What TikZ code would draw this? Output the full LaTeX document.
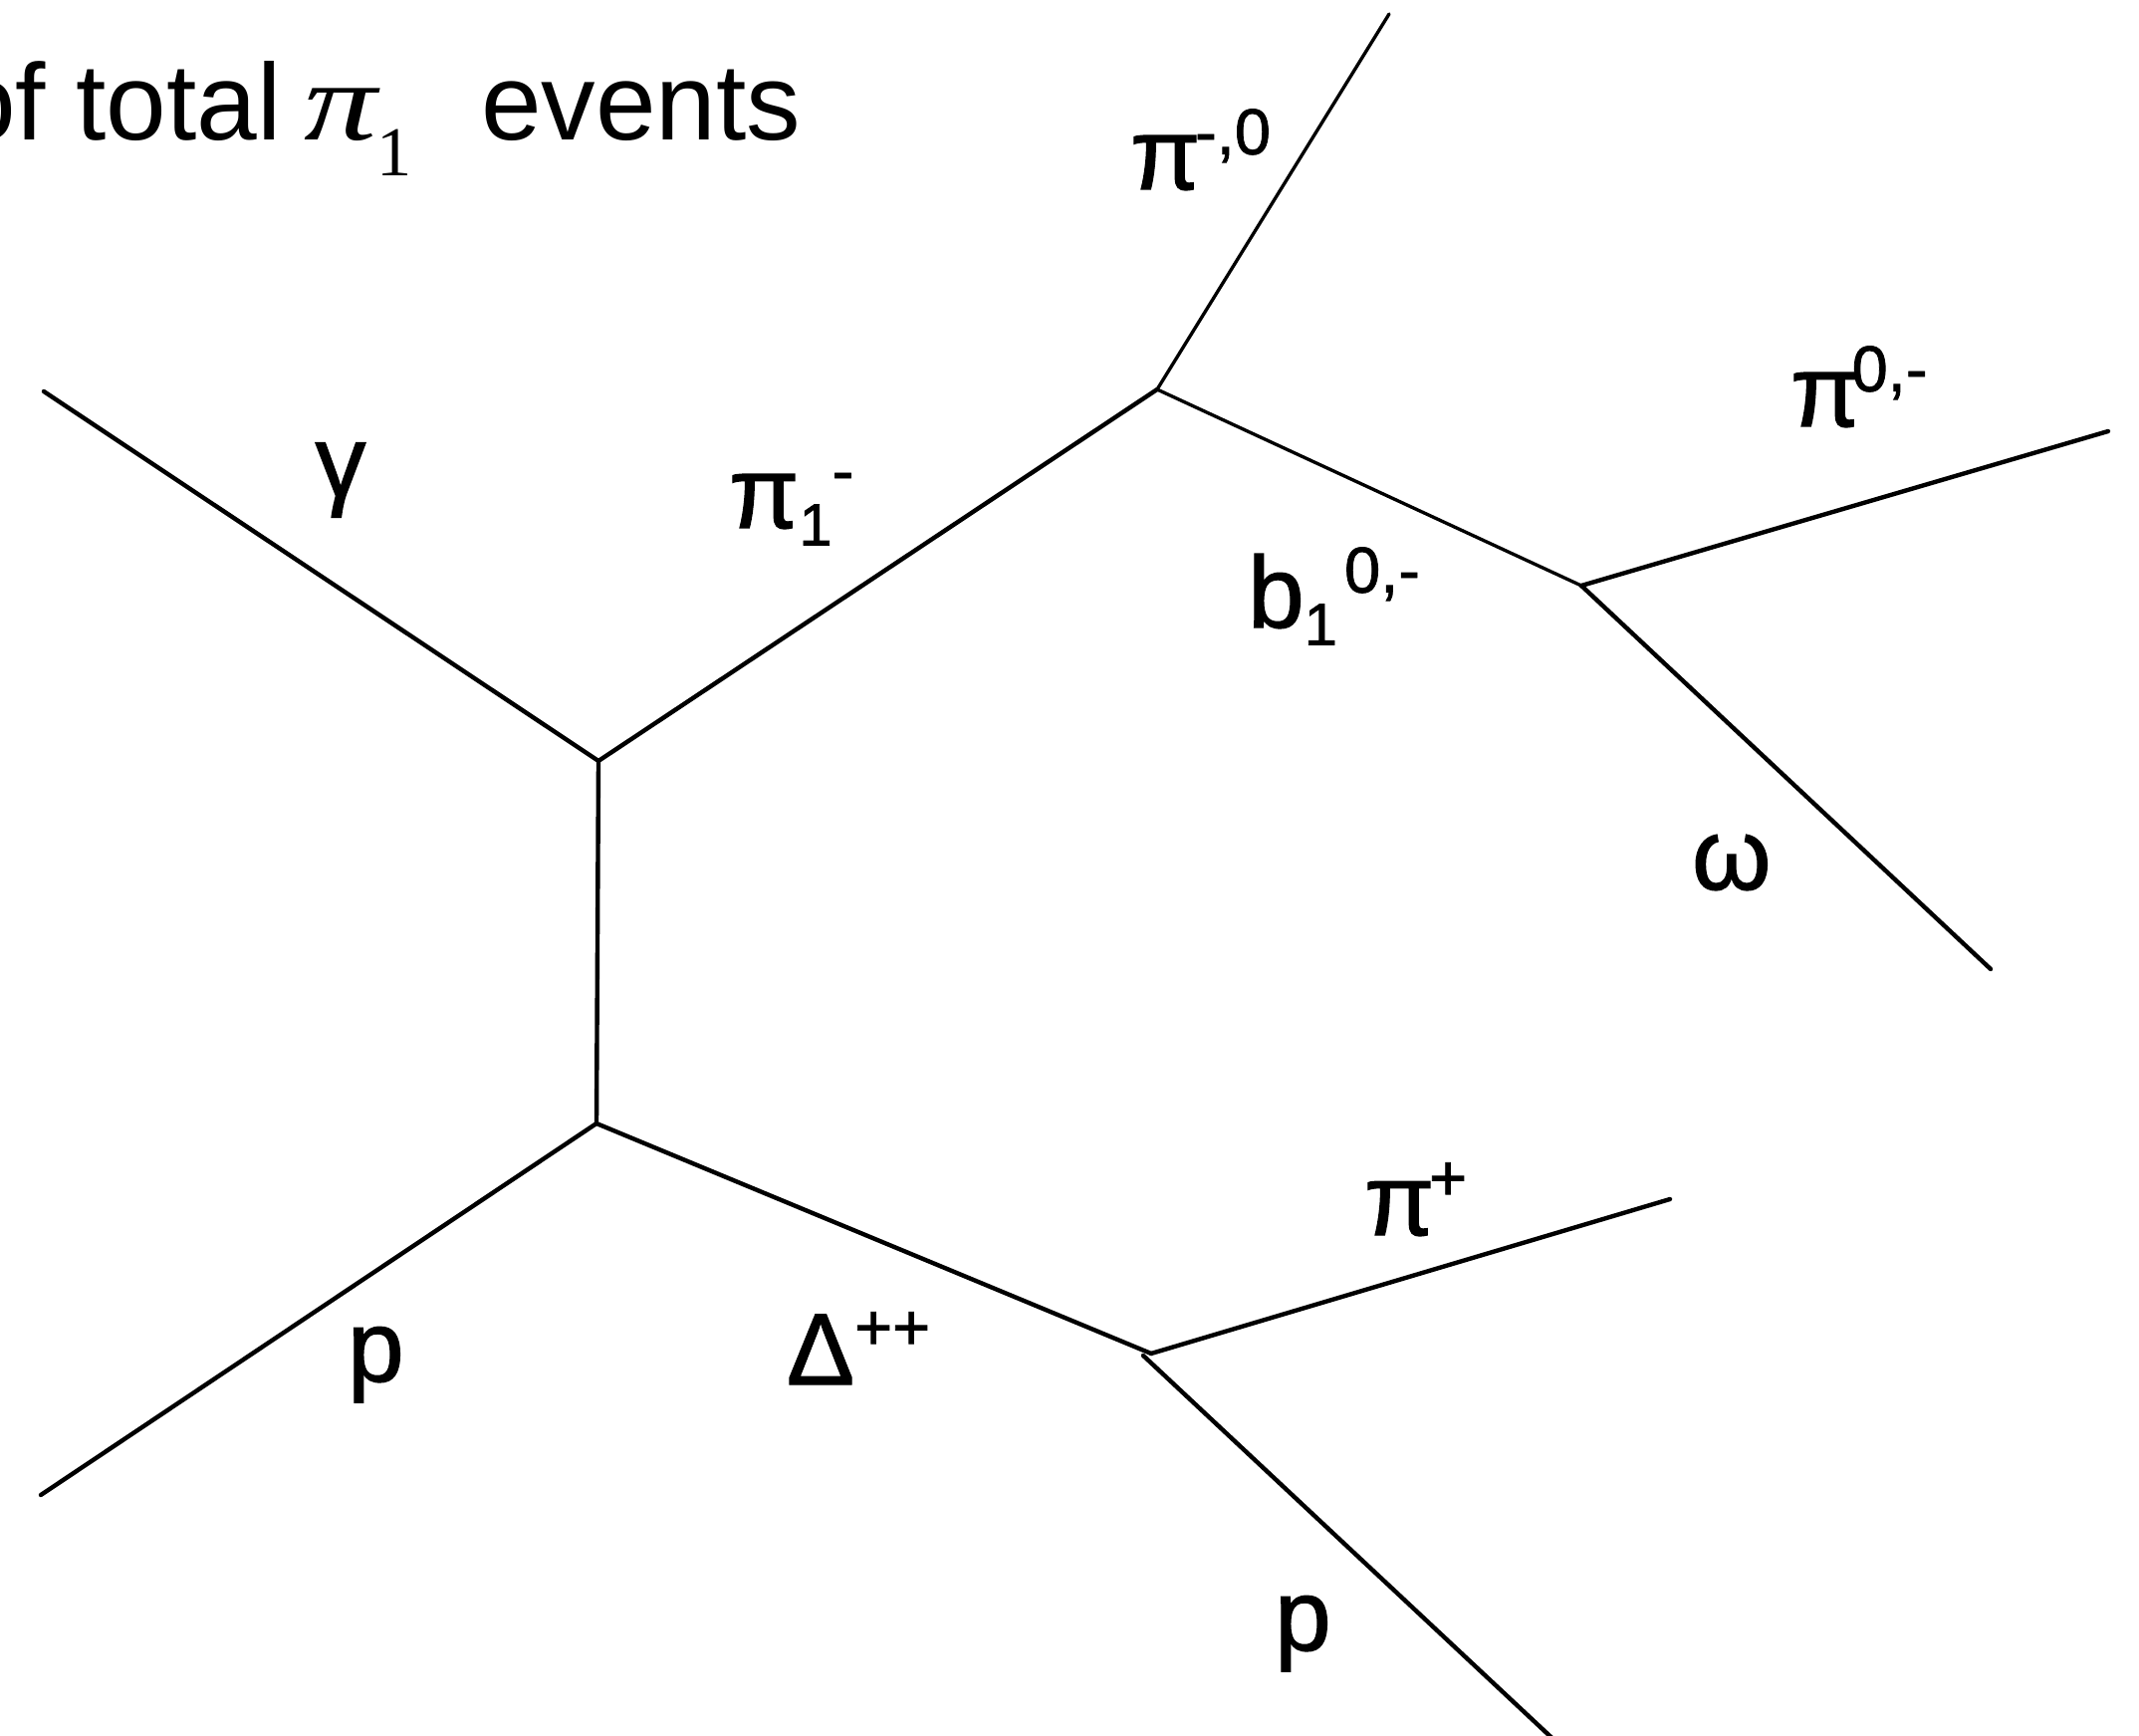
\documentclass[tikz,border=0pt]{standalone}
\usepackage{fontspec}
\usepackage{graphicx}
\setmainfont{Liberation Sans}
\newfontfamily\tms{Liberation Serif}
\newfontfamily\labfont[FakeBold=1.2]{Liberation Sans}
\newcommand\labsup[1]{\raisebox{10pt}{\fontsize{18.5}{20}\selectfont #1}}
\newcommand\labsub[1]{\raisebox{-5pt}{\fontsize{17}{20}\selectfont #1}}
\tikzset{
  prop/.style={line width=1.25pt, line cap=round},
  thinprop/.style={line width=0.95pt, line cap=round},
  lbl/.style={inner sep=0pt, outer sep=0pt, font=\labfont\fontsize{29}{34}\selectfont},
}
\begin{document}
\begin{tikzpicture}[x=0.01cm, y=-0.01cm]
\useasboundingbox (0,0) rectangle (2148,1743);
% vertices and free ends
\coordinate (gin) at (44,393);
\coordinate (v1) at (601,764);
\coordinate (v2) at (599,1128);
\coordinate (pin) at (41,1501);
\coordinate (v3) at (1162,391);
\coordinate (pimzend) at (1395,14);
\coordinate (v5) at (1588,588);
\coordinate (pizmend) at (2117,433);
\coordinate (omend) at (1999,973);
\coordinate (v4) at (1156,1359);
\coordinate (v4b) at (1148,1361);
\coordinate (pipend) at (1677,1204);
\coordinate (poutend) at (1566,1752);
% lines
\draw[prop] (gin) -- (v1);
\draw[prop] (v1) -- (v3);
\draw[prop] (v1) -- (v2);
\draw[prop] (pin) -- (v2);
\draw[prop] (v2) -- (v4);
\draw[prop] (v4) -- (pipend);
\draw[prop] (v4b) -- (poutend);
\draw[thinprop] (v3) -- (pimzend);
\draw[thinprop] (v3) -- (v5);
\draw[prop] (v5) -- (pizmend);
\draw[prop] (v5) -- (omend);
% title
\node[inner sep=0pt, anchor=base east, font=\fontsize{31}{38}\selectfont] (title) at (805,141)
  {of total \kern-2pt{\tms\itshape\fontsize{32}{38}\selectfont\scalebox{1.3}[1]{π}}\raisebox{-10pt}{\fontsize{20}{24}\selectfont\tms 1}\kern11pt{} events};
% labels
\node[lbl, anchor=center] (lgamma) at (342,482) {γ};
\node[lbl, anchor=base west] (lpi1) at (732,530) {π\labsub{1}\labsup{-}};
\node[lbl, anchor=base west] (lpimz) at (1135,190) {π\kern-1.5pt\labsup{-,0}};
\node[lbl, anchor=base west] (lpizm) at (1798,428) {π\kern-2.5pt\labsup{0,-}};
\node[lbl, anchor=base west] (lb1) at (1253,630) {b\labsub{1}\kern2pt\labsup{0,-}};
\node[lbl, anchor=base west] (lom) at (1699,893) {ω};
\node[lbl, anchor=base west] (lpip) at (1370,1240) {π\kern-1.5pt\labsup{+}};
\node[lbl, anchor=base west] (ldel) at (790,1390) {Δ\labsup{++}};
\node[lbl, anchor=base west] (lpin) at (349,1387) {p};
\node[lbl, anchor=base west] (lpout) at (1280,1657) {p};
\end{tikzpicture}
\end{document}
